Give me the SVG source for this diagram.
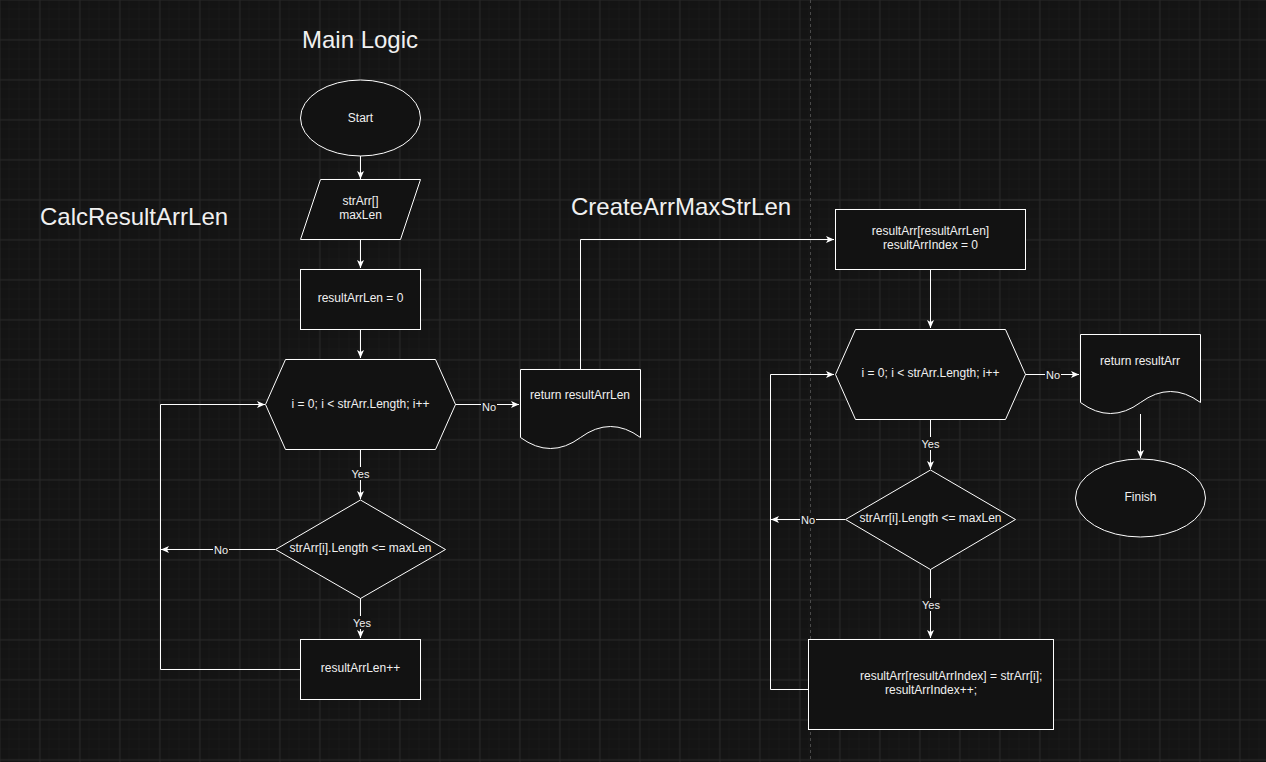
<svg xmlns="http://www.w3.org/2000/svg" width="1266" height="762" viewBox="0 0 1266 762">
<defs>
<pattern id="minor" width="10" height="10" patternUnits="userSpaceOnUse">
<path d="M10,0 V10 M0,10 H10" fill="none" stroke="#1b1b1b" stroke-width="1"/>
</pattern>
<pattern id="major" width="40" height="40" patternUnits="userSpaceOnUse" x="-0.5" y="-0.5">
<rect width="40" height="40" fill="url(#minor)"/>
<path d="M0.5,0 V40 M0,0.5 H40" fill="none" stroke="#282828" stroke-width="1"/>
</pattern>
<marker id="arr" markerWidth="9" markerHeight="8" refX="8" refY="4" orient="auto" markerUnits="userSpaceOnUse">
<path d="M0,0.5 L8,4 L0,7.5 L2,4 Z" fill="#ffffff"/>
</marker>
<style>
.s{fill:#121212;stroke:#ffffff;stroke-width:1}
.t{font-family:"Liberation Sans",Arial,sans-serif;font-size:12px;fill:#f0f0f0;text-anchor:middle;dominant-baseline:central}
.ts{text-anchor:start}
.title{font-family:"Liberation Sans",Arial,sans-serif;font-size:24px;fill:#f0f0f0}
.c{fill:none;stroke:#ffffff;stroke-width:1}
.lbl{font-family:"Liberation Sans",Arial,sans-serif;font-size:11px;fill:#f0f0f0;text-anchor:middle;dominant-baseline:central}
.lb{fill:#141414}
</style>
</defs>
<rect width="1266" height="762" fill="#141414"/>
<rect width="1266" height="762" fill="url(#major)"/>
<line x1="810.5" y1="0" x2="810.5" y2="762" stroke="#4a4a4a" stroke-dasharray="3,3"/>

<text class="title" x="360" y="48" text-anchor="middle">Main Logic</text>
<text class="title" x="40" y="225">CalcResultArrLen</text>
<text class="title" x="571" y="215">CreateArrMaxStrLen</text>

<g id="connectors">
<path class="c" d="M360.5,156 V179" marker-end="url(#arr)"/>
<path class="c" d="M360.5,239 V268" marker-end="url(#arr)"/>
<path class="c" d="M360.5,329 V358" marker-end="url(#arr)"/>
<path class="c" d="M360.5,449 V499" marker-end="url(#arr)"/>
<path class="c" d="M360.5,598 V638" marker-end="url(#arr)"/>
<path class="c" d="M455,404.5 H519" marker-end="url(#arr)"/>
<path class="c" d="M300,669.5 H160.5 V404.5 H265" marker-end="url(#arr)"/>
<path class="c" d="M275,549.5 H161" marker-end="url(#arr)"/>
<path class="c" d="M580.5,369 V239.5 H834" marker-end="url(#arr)"/>
<path class="c" d="M930.5,269 V328" marker-end="url(#arr)"/>
<path class="c" d="M930.5,419 V469" marker-end="url(#arr)"/>
<path class="c" d="M930.5,569 V638" marker-end="url(#arr)"/>
<path class="c" d="M1025,374.5 H1079" marker-end="url(#arr)"/>
<path class="c" d="M1140.5,414 V458" marker-end="url(#arr)"/>
<path class="c" d="M845,519.5 H771" marker-end="url(#arr)"/>
<path class="c" d="M808,689.5 H770.5 V374.5 H834" marker-end="url(#arr)"/>
<rect class="lb" x="351" y="467" width="19" height="13"/><text class="lbl" x="360.5" y="474">Yes</text>
<rect class="lb" x="352" y="616" width="19" height="13"/><text class="lbl" x="362" y="623">Yes</text>
<rect class="lb" x="481" y="401" width="16" height="13"/><text class="lbl" x="489" y="407">No</text>
<rect class="lb" x="213" y="543" width="16" height="13"/><text class="lbl" x="221" y="550">No</text>
<rect class="lb" x="921" y="437" width="19" height="13"/><text class="lbl" x="930.5" y="444">Yes</text>
<rect class="lb" x="922" y="598" width="19" height="13"/><text class="lbl" x="931" y="605">Yes</text>
<rect class="lb" x="1045" y="368" width="16" height="13"/><text class="lbl" x="1053" y="374.5">No</text>
<rect class="lb" x="800" y="513" width="16" height="13"/><text class="lbl" x="808" y="519.5">No</text>
</g>

<g id="start"><ellipse class="s" cx="360.5" cy="118" rx="60" ry="38"/><text class="t" x="360.5" y="118">Start</text></g>
<g id="input"><path class="s" d="M320.5,179.5 H420.5 L400.5,239.5 H300.5 Z"/><text class="t" x="360.5" y="201">strArr[]</text><text class="t" x="360.5" y="215">maxLen</text></g>
<g id="initLen"><rect class="s" x="300.5" y="269.5" width="120" height="60"/><text class="t" x="360.5" y="298">resultArrLen = 0</text></g>
<g id="loop1"><path class="s" d="M265.5,404.5 L285.5,359.5 H435.5 L455.5,404.5 L435.5,449.5 H285.5 Z"/><text class="t" x="360.5" y="404">i = 0; i &lt; strArr.Length; i++</text></g>
<g id="cond1"><path class="s" d="M360.5,500 L445.5,549.5 L360.5,598.5 L275.5,549.5 Z"/><text class="t" x="360.5" y="548">strArr[i].Length &lt;= maxLen</text></g>
<g id="inc1"><rect class="s" x="300.5" y="639.5" width="120" height="60"/><text class="t" x="360.5" y="668">resultArrLen++</text></g>
<g id="ret1"><path class="s" d="M520.5,369.5 H640.5 V437.5 Q610.5,415.5 580.5,437.5 Q550.5,459.5 520.5,437.5 Z"/><text class="t" x="580" y="395">return resultArrLen</text></g>

<g id="initArr"><rect class="s" x="835.5" y="209.5" width="190" height="60"/><text class="t" x="930.5" y="231">resultArr[resultArrLen]</text><text class="t" x="930.5" y="245">resultArrIndex = 0</text></g>
<g id="loop2"><path class="s" d="M835.5,374.5 L855.5,329.5 H1005.5 L1025.5,374.5 L1005.5,419.5 H855.5 Z"/><text class="t" x="930.5" y="373">i = 0; i &lt; strArr.Length; i++</text></g>
<g id="cond2"><path class="s" d="M930.5,470 L1015.5,519.5 L930.5,569.5 L845.5,519.5 Z"/><text class="t" x="930.5" y="518">strArr[i].Length &lt;= maxLen</text></g>
<g id="assign"><rect class="s" x="808.5" y="639.5" width="245" height="90"/><text class="t ts" x="860" y="676">resultArr[resultArrIndex] = strArr[i];</text><text class="t ts" x="885" y="690">resultArrIndex++;</text></g>
<g id="ret2"><path class="s" d="M1080.5,334.5 H1200.5 V402.5 Q1170.5,380.5 1140.5,402.5 Q1110.5,424.5 1080.5,402.5 Z"/><text class="t" x="1140" y="361">return resultArr</text></g>
<g id="finish"><ellipse class="s" cx="1140.5" cy="498" rx="65" ry="39"/><text class="t" x="1140.5" y="497">Finish</text></g>
</svg>
